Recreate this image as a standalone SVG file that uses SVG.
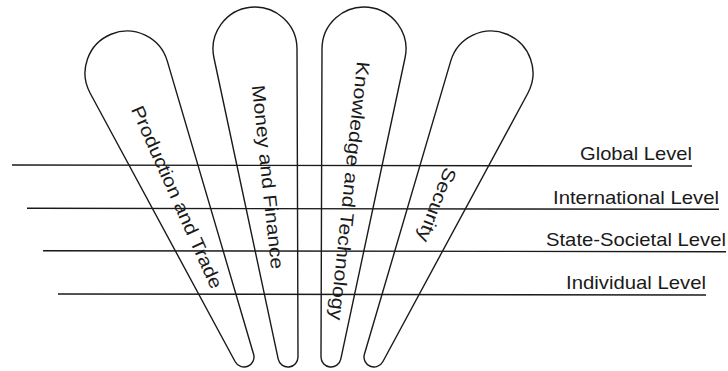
<svg xmlns="http://www.w3.org/2000/svg" width="728" height="371" viewBox="0 0 728 371">
<style>
  .petal { fill: none; stroke: #1a1a1a; stroke-width: 1.4; }
  .lvl { stroke: #1a1a1a; stroke-width: 1.4; fill: none; }
  .lbl { font-family: "Liberation Sans", Arial, Helvetica, sans-serif; font-size: 18.5px; fill: #1a1a1a; }
</style>
<rect width="728" height="371" fill="#ffffff"/>
<g id="connectors">
  <g id="level-global">
    <line class="lvl" x1="12" y1="165" x2="692" y2="166"/>
  </g>
  <g id="level-international">
    <line class="lvl" x1="27" y1="208.3" x2="719" y2="209.3"/>
  </g>
  <g id="level-state">
    <line class="lvl" x1="43" y1="250.7" x2="726" y2="251.7"/>
  </g>
  <g id="level-individual">
    <line class="lvl" x1="58" y1="294" x2="706" y2="295"/>
  </g>
</g>
<g id="node-production">
  <path class="petal" d="M167.3,61.1 L253.6,354.2 A10,10 0 0,1 235.2,361.75 L90.05,92.96 A42,42 0 1,1 167.3,61.1 Z"/>
  <text class="lbl" transform="translate(177,197) rotate(66)" x="0" y="6.5" text-anchor="middle" textLength="198" lengthAdjust="spacingAndGlyphs">Production and Trade</text>
</g>
<g id="node-money">
  <path class="petal" d="M297,48.86 L298,356.97 A10,10 0 0,1 278.22,359.09 L213.93,57.76 A42,42 0 1,1 297,48.86 Z"/>
  <text class="lbl" transform="translate(268,177) rotate(84)" x="0" y="6.5" text-anchor="middle" textLength="185" lengthAdjust="spacingAndGlyphs">Money and Finance</text>
</g>
<g id="node-knowledge">
  <path class="petal" d="M322,48.86 L321,356.97 A10,10 0 0,0 340.78,359.09 L405.07,57.76 A42,42 0 1,0 322,48.86 Z"/>
  <text class="lbl" transform="translate(350,191) rotate(96)" x="0" y="6.5" text-anchor="middle" textLength="260" lengthAdjust="spacingAndGlyphs">Knowledge and Technology</text>
</g>
<g id="node-security">
  <path class="petal" d="M450.7,61.1 L364.4,354.2 A10,10 0 0,0 382.8,361.75 L527.95,92.96 A42,42 0 1,0 450.7,61.1 Z"/>
  <text class="lbl" transform="translate(437,205) rotate(111)" x="0" y="6.5" text-anchor="middle" textLength="78" lengthAdjust="spacingAndGlyphs">Security</text>
</g>
<g id="label-global">
  <text class="lbl" x="580" y="160" textLength="112" lengthAdjust="spacingAndGlyphs">Global Level</text>
</g>
<g id="label-international">
  <text class="lbl" x="553" y="204" textLength="166" lengthAdjust="spacingAndGlyphs">International Level</text>
</g>
<g id="label-state">
  <text class="lbl" x="546" y="246" textLength="180" lengthAdjust="spacingAndGlyphs">State-Societal Level</text>
</g>
<g id="label-individual">
  <text class="lbl" x="566" y="289" textLength="140" lengthAdjust="spacingAndGlyphs">Individual Level</text>
</g>
</svg>
